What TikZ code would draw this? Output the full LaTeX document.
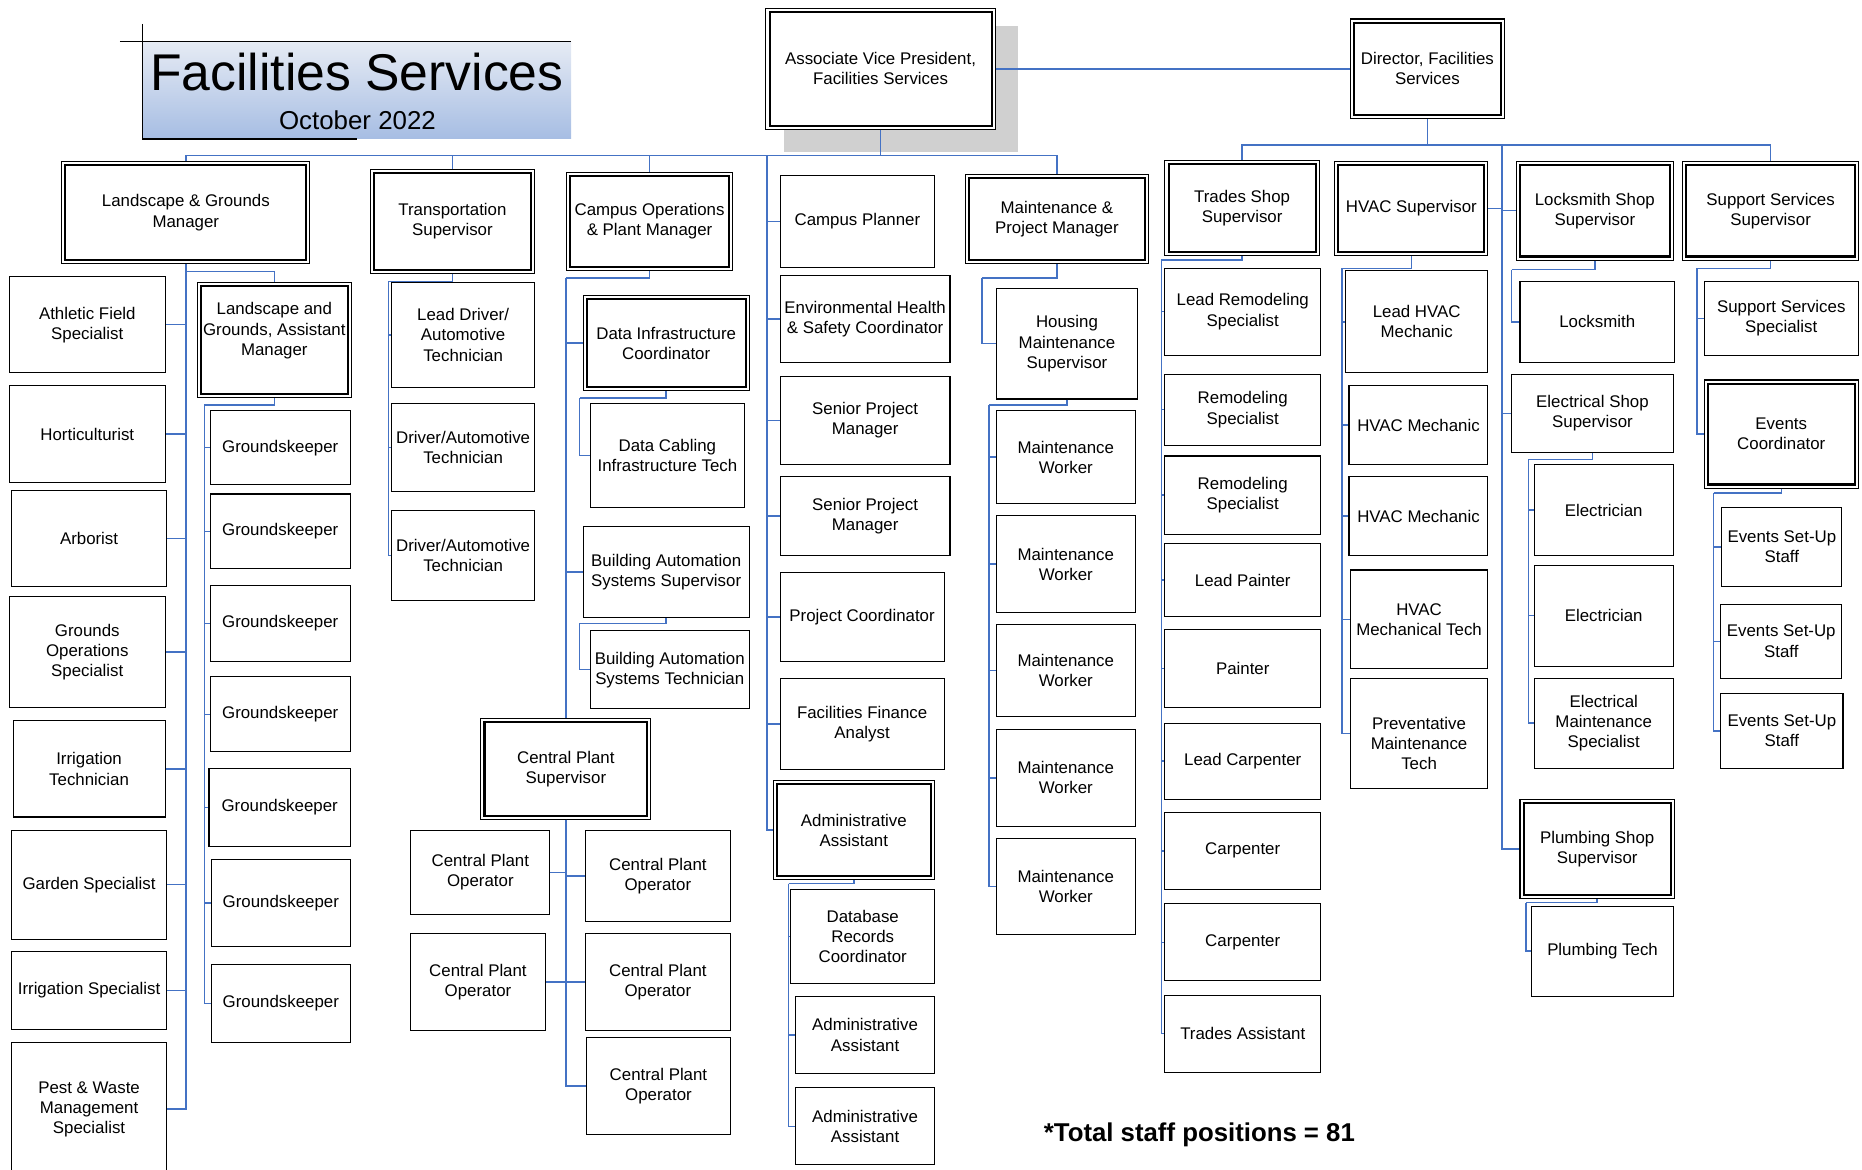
\documentclass[tikz,border=0pt]{standalone}
\usepackage{fontspec}
\setmainfont{Liberation Sans}
\definecolor{linkblue}{HTML}{4472C4}
\definecolor{shadowgray}{HTML}{D0D0D0}
\definecolor{titletop}{HTML}{E6EBF4}
\definecolor{titlebot}{HTML}{A6BDE3}
\begin{document}
\begin{tikzpicture}[x=1pt,y=-1pt,
  box/.style={draw,fill=white,line width=0.9pt,align=center,inner sep=1pt,font=\fontsize{14.2}{17}\selectfont},
  dbox/.style={box,path picture={\draw[line width=1.7pt] ([shift={(3pt,3pt)}]path picture bounding box.south west) rectangle ([shift={(-3pt,-3pt)}]path picture bounding box.north east);}},
  link/.style={draw=linkblue,line width=1.2pt}]
\useasboundingbox (0,0) rectangle (1568,985);
\shade[top color=titletop,bottom color=titlebot] (120,35) rectangle (481,117);
\draw[line width=1.5pt] (101,35) -- (481,35);
\draw[line width=1.2pt] (120,20) -- (120,117) -- (301,117);
\node[anchor=base,inner sep=0pt,font=\fontsize{43.5}{50}\selectfont] (title) at (300.5,76) {Facilities Services};
\node[anchor=base,inner sep=0pt,font=\fontsize{21.8}{26}\selectfont] (date) at (301,109) {October 2022};
\node[anchor=base,inner sep=0pt,font=\bfseries\fontsize{21.7}{26}\selectfont] (total) at (1010,961) {*Total staff positions = 81};
\fill[shadowgray] (660,22) rectangle (857,128);
\node[dbox,minimum width=193,minimum height=102] (avp) at (741.5,58) {Associate Vice President,\\Facilities Services};
\node[dbox,minimum width=130,minimum height=84] (dir) at (1202,58) {Director, Facilities\\Services};
\node[dbox,minimum width=209,minimum height=86] (lgm) at (156.5,179) {Landscape \& Grounds\\Manager};
\node[box,minimum width=131,minimum height=81] (afs) at (73.5,273.5) {Athletic Field\\Specialist};
\node[box,minimum width=131,minimum height=81] (hort) at (73.5,365.5) {Horticulturist};
\node[box,minimum width=130,minimum height=81] (arb) at (75,453.5) {Arborist};
\node[box,minimum width=131,minimum height=94] (gos) at (73.5,549) {Grounds\\Operations\\Specialist};
\node[box,minimum width=128,minimum height=81] (it) at (75,647.5) {Irrigation\\Technician};
\node[box,minimum width=130,minimum height=92] (gs) at (75,745) {Garden Specialist};
\node[box,minimum width=130,minimum height=66] (is) at (75,834) {Irrigation Specialist};
\node[box,minimum width=130,minimum height=112] (pwm) at (75,934) {Pest \& Waste\\Management\\Specialist};
\node[dbox,minimum width=130,minimum height=97,text depth=19pt] (lgam) at (231,286.5) {Landscape and\\Grounds, Assistant\\Manager};
\node[box,minimum width=118,minimum height=62] (gk1) at (236,377) {Groundskeeper};
\node[box,minimum width=118,minimum height=63] (gk2) at (236,447.5) {Groundskeeper};
\node[box,minimum width=118,minimum height=64] (gk3) at (236,525) {Groundskeeper};
\node[box,minimum width=118,minimum height=63] (gk4) at (236,601.5) {Groundskeeper};
\node[box,minimum width=119,minimum height=66] (gk5) at (235.5,680) {Groundskeeper};
\node[box,minimum width=117,minimum height=73] (gk6) at (236.5,760.5) {Groundskeeper};
\node[box,minimum width=117,minimum height=66] (gk7) at (236.5,845) {Groundskeeper};
\node[dbox,minimum width=138,minimum height=87] (ts) at (381,186.5) {Transportation\\Supervisor};
\node[box,minimum width=120,minimum height=88] (ld) at (390,282) {Lead Driver/\\Automotive\\Technician};
\node[box,minimum width=120,minimum height=74] (dat1) at (390,377) {Driver/Automotive\\Technician};
\node[box,minimum width=120,minimum height=76] (dat2) at (390,468) {Driver/Automotive\\Technician};
\node[dbox,minimum width=140,minimum height=83] (copm) at (547,186.5) {Campus Operations\\\& Plant Manager};
\node[dbox,minimum width=140,minimum height=80] (dic) at (561,289) {Data Infrastructure\\Coordinator};
\node[box,minimum width=130,minimum height=87] (dcit) at (562,383.5) {Data Cabling\\Infrastructure Tech};
\node[box,minimum width=140,minimum height=77] (bass) at (561,481.5) {Building Automation\\Systems Supervisor};
\node[box,minimum width=134,minimum height=66] (bast) at (564,564) {Building Automation\\Systems Technician};
\node[dbox,minimum width=143,minimum height=85] (cps) at (476.5,647.5) {Central Plant\\Supervisor};
\node[box,minimum width=117,minimum height=71] (cpol1) at (404.5,734.5) {Central Plant\\Operator};
\node[box,minimum width=113,minimum height=82] (cpol2) at (402.5,827) {Central Plant\\Operator};
\node[box,minimum width=122,minimum height=77] (cpor1) at (554,737.5) {Central Plant\\Operator};
\node[box,minimum width=122,minimum height=82] (cpor2) at (554,827) {Central Plant\\Operator};
\node[box,minimum width=121,minimum height=81] (cpor3) at (554.5,914.5) {Central Plant\\Operator};
\node[box,minimum width=130,minimum height=77] (cp) at (722,186.5) {Campus Planner};
\node[box,minimum width=143,minimum height=73] (ehs) at (728.5,268.5) {Environmental Health\\\& Safety Coordinator};
\node[box,minimum width=143,minimum height=74] (spm1) at (728.5,354) {Senior Project\\Manager};
\node[box,minimum width=143,minimum height=67] (spm2) at (728.5,434.5) {Senior Project\\Manager};
\node[box,minimum width=138,minimum height=75] (pc) at (726,519.5) {Project Coordinator};
\node[box,minimum width=138,minimum height=77] (ffa) at (726,609.5) {Facilities Finance\\Analyst};
\node[dbox,minimum width=136,minimum height=84] (aa1) at (719,699) {Administrative\\Assistant};
\node[box,minimum width=121,minimum height=79] (drc) at (726.5,788.5) {Database\\Records\\Coordinator};
\node[box,minimum width=117,minimum height=65] (aa2) at (728.5,871.5) {Administrative\\Assistant};
\node[box,minimum width=117,minimum height=65] (aa3) at (728.5,948.5) {Administrative\\Assistant};
\node[dbox,minimum width=154,minimum height=75] (mpm) at (890,184.5) {Maintenance \&\\Project Manager};
\node[box,minimum width=119,minimum height=93] (hms) at (898.5,289.5) {Housing\\Maintenance\\Supervisor};
\node[box,minimum width=117,minimum height=78] (mw1) at (897.5,385) {Maintenance\\Worker};
\node[box,minimum width=117,minimum height=82] (mw2) at (897.5,475) {Maintenance\\Worker};
\node[box,minimum width=117,minimum height=77] (mw3) at (897.5,564.5) {Maintenance\\Worker};
\node[box,minimum width=117,minimum height=82] (mw4) at (897.5,655) {Maintenance\\Worker};
\node[box,minimum width=117,minimum height=81] (mw5) at (897.5,746.5) {Maintenance\\Worker};
\node[dbox,minimum width=130,minimum height=80] (tss) at (1046,175) {Trades Shop\\Supervisor};
\node[box,minimum width=131,minimum height=73] (lrs) at (1046.5,262.5) {Lead Remodeling\\Specialist};
\node[box,minimum width=131,minimum height=60] (rs1) at (1046.5,345) {Remodeling\\Specialist};
\node[box,minimum width=131,minimum height=66] (rs2) at (1046.5,417) {Remodeling\\Specialist};
\node[box,minimum width=131,minimum height=61] (lp) at (1046.5,488.5) {Lead Painter};
\node[box,minimum width=131,minimum height=66] (pai) at (1046.5,563) {Painter};
\node[box,minimum width=131,minimum height=64] (lc) at (1046.5,641) {Lead Carpenter};
\node[box,minimum width=131,minimum height=65] (car1) at (1046.5,716.5) {Carpenter};
\node[box,minimum width=131,minimum height=65] (car2) at (1046.5,793.5) {Carpenter};
\node[box,minimum width=131,minimum height=65] (ta) at (1046.5,870.5) {Trades Assistant};
\node[dbox,minimum width=129,minimum height=79] (hvs) at (1188.5,175.5) {HVAC Supervisor};
\node[box,minimum width=120,minimum height=86] (lhm) at (1193,271) {Lead HVAC\\Mechanic};
\node[box,minimum width=117,minimum height=66] (hm1) at (1194.5,358) {HVAC Mechanic};
\node[box,minimum width=117,minimum height=67] (hm2) at (1194.5,434.5) {HVAC Mechanic};
\node[box,minimum width=116,minimum height=83] (hmt) at (1195,521.5) {HVAC\\Mechanical Tech};
\node[box,minimum width=116,minimum height=93,text height=61pt] (pmt) at (1195,617.5) {Preventative\\Maintenance\\Tech};
\node[dbox,minimum width=132,minimum height=83] (lss) at (1343,177.5) {Locksmith Shop\\Supervisor};
\node[box,minimum width=130,minimum height=68] (ls) at (1345,271) {Locksmith};
\node[box,minimum width=136,minimum height=66] (ess) at (1341,348) {Electrical Shop\\Supervisor};
\node[box,minimum width=117,minimum height=77] (el1) at (1350.5,429.5) {Electrician};
\node[box,minimum width=117,minimum height=85] (el2) at (1350.5,518.5) {Electrician};
\node[box,minimum width=117,minimum height=76] (ems) at (1350.5,609) {Electrical\\Maintenance\\Specialist};
\node[dbox,minimum width=130,minimum height=84] (pss) at (1345,715) {Plumbing Shop\\Supervisor};
\node[box,minimum width=119,minimum height=76] (pt) at (1349.5,801) {Plumbing Tech};
\node[dbox,minimum width=148,minimum height=83] (sss) at (1491,177.5) {Support Services\\Supervisor};
\node[box,minimum width=130,minimum height=62] (sssp) at (1500,268) {Support Services\\Specialist};
\node[dbox,minimum width=130,minimum height=91] (ec) at (1500,365.5) {Events\\Coordinator};
\node[box,minimum width=101,minimum height=67] (esu1) at (1500.5,460.5) {Events Set-Up\\Staff};
\node[box,minimum width=102,minimum height=62] (esu2) at (1500,540) {Events Set-Up\\Staff};
\node[box,minimum width=103,minimum height=63] (esu3) at (1500.5,615.5) {Events Set-Up\\Staff};
\coordinate (topbus) at (741.5,131);
\coordinate (cptrunk) at (646,131);
\coordinate (dirbus) at (1202,122);
\coordinate (dirtrunk) at (1265,122);
\coordinate (gktop) at (172,341);
\coordinate (tstop) at (327,237);
\coordinate (cotop) at (476.5,234);
\coordinate (dictop) at (488,335);
\coordinate (basstop) at (488,525);
\coordinate (aatop) at (664,744);
\coordinate (mpmtop) at (827,234);
\coordinate (hmstop) at (833,341);
\coordinate (tsstop) at (978,219);
\coordinate (hvstop) at (1130,226);
\coordinate (lsstop) at (1273,227);
\coordinate (esstop) at (1287,387);
\coordinate (psstop) at (1285,760);
\coordinate (ssstop) at (1429,226);
\coordinate (ectop) at (1443,415);
\draw[link] (avp.east) -- (dir.west);
\draw[link] (avp.south) -- (topbus);
\foreach \n in {lgm,ts,copm,mpm} \draw[link] (topbus) -| (\n.north);
\foreach \n in {cp,ehs,spm1,spm2,pc,ffa,aa1} \draw[link] (cptrunk) |- (\n.west);
\draw[link] (dir.south) -- (dirbus);
\foreach \n in {tss,sss} \draw[link] (dirbus) -| (\n.north);
\draw[link] (dirtrunk) |- (hvs.east);
\foreach \n in {lss,ess,pss} \draw[link] (dirtrunk) |- (\n.west);
\foreach \n in {afs,hort,arb,gos,it,gs,is,pwm} \draw[link] (lgm.south) |- (\n.east);
\draw[link] (lgm.south) -- ++(0,6) -| (lgam.north);
\draw[link] (lgam.south) |- (gktop);
\foreach \i in {1,...,7} \draw[link] (gktop) |- (gk\i.west);
\draw[link] (ts.south) |- (tstop);
\foreach \n in {ld,dat1,dat2} \draw[link] (tstop) |- (\n.west);
\draw[link] (copm.south) |- (cotop);
\foreach \n in {dic,bass} \draw[link] (cotop) |- (\n.west);
\draw[link] (cotop) -- (cps.north);
\draw[link] (dic.south) |- (dictop);
\draw[link] (dictop) |- (dcit.west);
\draw[link] (bass.south) |- (basstop);
\draw[link] (basstop) |- (bast.west);
\foreach \n in {cpol1,cpol2} \draw[link] (cps.south) |- (\n.east);
\foreach \n in {cpor1,cpor2,cpor3} \draw[link] (cps.south) |- (\n.west);
\draw[link] (aa1.south) |- (aatop);
\foreach \n in {drc,aa2,aa3} \draw[link] (aatop) |- (\n.west);
\draw[link] (mpm.south) |- (mpmtop);
\draw[link] (mpmtop) |- (hms.west);
\draw[link] (hms.south) |- (hmstop);
\foreach \i in {1,...,5} \draw[link] (hmstop) |- (mw\i.west);
\draw[link] (tss.south) |- (tsstop);
\foreach \n in {lrs,rs1,rs2,lp,pai,lc,car1,car2,ta} \draw[link] (tsstop) |- (\n.west);
\draw[link] (hvs.south) |- (hvstop);
\foreach \n in {lhm,hm1,hm2,hmt,pmt} \draw[link] (hvstop) |- (\n.west);
\draw[link] (lss.south) |- (lsstop);
\draw[link] (lsstop) |- (ls.west);
\draw[link] (ess.south) |- (esstop);
\foreach \n in {el1,el2,ems} \draw[link] (esstop) |- (\n.west);
\draw[link] (pss.south) |- (psstop);
\draw[link] (psstop) |- (pt.west);
\draw[link] (sss.south) |- (ssstop);
\foreach \n in {sssp,ec} \draw[link] (ssstop) |- (\n.west);
\draw[link] (ec.south) |- (ectop);
\foreach \n in {esu1,esu2,esu3} \draw[link] (ectop) |- (\n.west);
\end{tikzpicture}
\end{document}
